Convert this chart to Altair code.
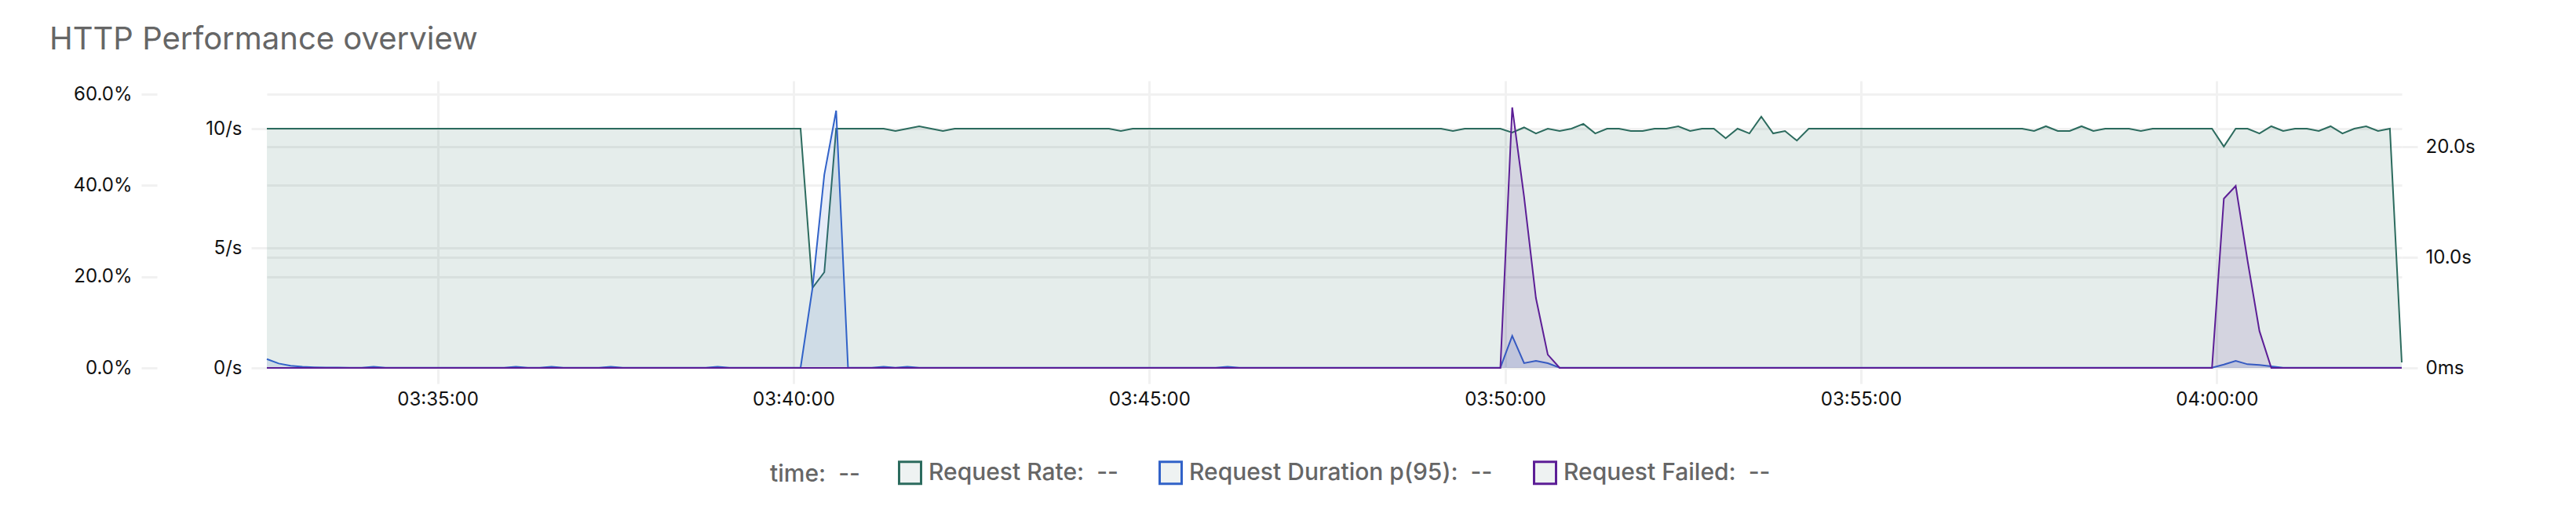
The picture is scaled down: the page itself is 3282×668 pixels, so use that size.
import altair as alt
import pandas as pd

# ---------------- data ----------------
START = "2024-01-01 03:32:36"   # first sample, one sample every 10 s

SERIES = ["Request Rate", "Request Duration p(95)", "Request Failed"]
LINE_COLORS = ["#2c6b5e", "#3162c8", "#5c1e96"]

# x-axis tick times (hour, minute)
X_TICKS = [(3, 35), (3, 40), (3, 45), (3, 50), (3, 55), (4, 0)]

# Request Rate (requests / s)
rate = [
    10, 10, 10, 10, 10, 10, 10, 10, 10, 10,
    10, 10, 10, 10, 10, 10, 10, 10, 10, 10,
    10, 10, 10, 10, 10, 10, 10, 10, 10, 10,
    10, 10, 10, 10, 10, 10, 10, 10, 10, 10,
    10, 10, 10, 10, 10, 10, 3.34, 4.0, 10, 10,
    10, 10, 10, 9.9, 10, 10.1, 10, 9.9, 10, 10,
    10, 10, 10, 10, 10, 10, 10, 10, 10, 10,
    10, 10, 9.9, 10, 10, 10, 10, 10, 10, 10,
    10, 10, 10, 10, 10, 10, 10, 10, 10, 10,
    10, 10, 10, 10, 10, 10, 10, 10, 10, 10,
    9.9, 10, 10, 10, 10, 9.84, 10.05, 9.8, 10, 9.9,
    10, 10.2, 9.8, 10, 10, 9.9, 9.9, 10, 10, 10.1,
    9.9, 10, 10, 9.6, 10, 9.8, 10.5, 9.8, 9.9, 9.5,
    10, 10, 10, 10, 10, 10, 10, 10, 10, 10,
    10, 10, 10, 10, 10, 10, 10, 10, 10, 9.9,
    10.1, 9.9, 9.9, 10.1, 9.9, 10, 10, 10, 9.9, 10,
    10, 10, 10, 10, 10, 9.25, 10, 10, 9.8, 10.1,
    9.9, 10, 10, 9.9, 10.1, 9.8, 10, 10.1, 9.9, 10,
    0.23,
]

# Request Duration p(95) (seconds)
duration = [
    0.8, 0.4, 0.2, 0.1, 0.06, 0.04, 0.03, 0.02, 0.02, 0.1,
    0.02, 0.02, 0.02, 0.02, 0.02, 0.02, 0.02, 0.02, 0.02, 0.02,
    0.02, 0.1, 0.02, 0.02, 0.1, 0.02, 0.02, 0.02, 0.02, 0.1,
    0.02, 0.02, 0.02, 0.02, 0.02, 0.02, 0.02, 0.02, 0.1, 0.02,
    0.02, 0.02, 0.02, 0.02, 0.02, 0.02, 7.2, 17.5, 23.3, 0.02,
    0.02, 0.02, 0.1, 0.02, 0.1, 0.02, 0.02, 0.02, 0.02, 0.02,
    0.02, 0.02, 0.02, 0.02, 0.02, 0.02, 0.02, 0.02, 0.02, 0.02,
    0.02, 0.02, 0.02, 0.02, 0.02, 0.02, 0.02, 0.02, 0.02, 0.02,
    0.02, 0.1, 0.02, 0.02, 0.02, 0.02, 0.02, 0.02, 0.02, 0.02,
    0.02, 0.02, 0.02, 0.02, 0.02, 0.02, 0.02, 0.02, 0.02, 0.02,
    0.02, 0.02, 0.02, 0.02, 0.02, 2.9, 0.43, 0.64, 0.43, 0.02,
    0.02, 0.02, 0.02, 0.02, 0.02, 0.02, 0.02, 0.02, 0.02, 0.02,
    0.02, 0.02, 0.02, 0.02, 0.02, 0.02, 0.02, 0.02, 0.02, 0.02,
    0.02, 0.02, 0.02, 0.02, 0.02, 0.02, 0.02, 0.02, 0.02, 0.02,
    0.02, 0.02, 0.02, 0.02, 0.02, 0.02, 0.02, 0.02, 0.02, 0.02,
    0.02, 0.02, 0.02, 0.02, 0.02, 0.02, 0.02, 0.02, 0.02, 0.02,
    0.02, 0.02, 0.02, 0.02, 0.02, 0.3, 0.64, 0.33, 0.26, 0.14,
    0.02, 0.02, 0.02, 0.02, 0.02, 0.02, 0.02, 0.02, 0.02, 0.02,
    0.02,
]

# Request Failed (fraction)
failed = [
    0, 0, 0, 0, 0, 0, 0, 0, 0, 0,
    0, 0, 0, 0, 0, 0, 0, 0, 0, 0,
    0, 0, 0, 0, 0, 0, 0, 0, 0, 0,
    0, 0, 0, 0, 0, 0, 0, 0, 0, 0,
    0, 0, 0, 0, 0, 0, 0, 0, 0, 0,
    0, 0, 0, 0, 0, 0, 0, 0, 0, 0,
    0, 0, 0, 0, 0, 0, 0, 0, 0, 0,
    0, 0, 0, 0, 0, 0, 0, 0, 0, 0,
    0, 0, 0, 0, 0, 0, 0, 0, 0, 0,
    0, 0, 0, 0, 0, 0, 0, 0, 0, 0,
    0, 0, 0, 0, 0, 0.571, 0.375, 0.153, 0.029, 0,
    0, 0, 0, 0, 0, 0, 0, 0, 0, 0,
    0, 0, 0, 0, 0, 0, 0, 0, 0, 0,
    0, 0, 0, 0, 0, 0, 0, 0, 0, 0,
    0, 0, 0, 0, 0, 0, 0, 0, 0, 0,
    0, 0, 0, 0, 0, 0, 0, 0, 0, 0,
    0, 0, 0, 0, 0, 0.371, 0.399, 0.235, 0.081, 0,
    0, 0, 0, 0, 0, 0, 0, 0, 0, 0,
    0,
]

FAIL_TICKS = [0, 0.2, 0.4, 0.6]
RATE_TICKS = [0, 5, 10]
DUR_TICKS = [0, 10, 20]

times = pd.date_range(START, periods=len(rate), freq="10s")
df = pd.DataFrame({
    "time": list(times.strftime("%Y-%m-%dT%H:%M:%S")),
    "rate": rate,
    "duration": duration,
    "failed": failed,
})

# ---------------- styling ----------------
FONT = "Inter"
GRID = "#f1f1f1"

x_enc = alt.X(
    "time:T",
    scale=alt.Scale(nice=False),
    axis=alt.Axis(
        title=None, format="%H:%M:%S",
        values=[alt.DateTime(year=2024, month=1, date=1, hours=h, minutes=m)
                for h, m in X_TICKS],
        domain=False, grid=True, gridColor=GRID, gridWidth=3,
        ticks=True, tickSize=20, tickColor=GRID, tickWidth=3,
        labelFontSize=24, labelColor="#111", labelPadding=8, labelFont=FONT,
    ),
)


def yaxis(orient, offset, values, pad, fmt=None, expr=None):
    kw = dict(
        orient=orient, offset=offset, values=values, title=None, domain=False,
        grid=True, gridColor=GRID, gridWidth=3,
        ticks=True, tickSize=20, tickColor=GRID, tickWidth=3,
        labelFontSize=24, labelColor="#111", labelPadding=pad, labelFont=FONT,
    )
    if fmt:
        kw["format"] = fmt
    if expr:
        kw["labelExpr"] = expr
    return alt.Axis(**kw)


stroke_scale = alt.Scale(domain=SERIES, range=LINE_COLORS)
legend = alt.Legend(
    title="time:\u00a0\u00a0--", titleOrient="left", titlePadding=48,
    titleFontSize=30, titleColor="#666", titleFontWeight=500, titleFont=FONT,
    orient="none", legendX=641, legendY=484, direction="horizontal",
    symbolType="square", symbolSize=784, symbolStrokeWidth=3,
    symbolFillColor="#eef2f2",
    labelExpr="datum.label + ':\u00a0\u00a0--'",
    labelFontSize=30, labelColor="#666", labelFontWeight=500, labelFont=FONT,
    labelOffset=8, labelLimit=1000, columnPadding=46, padding=0,
)

series_defs = [
    # field, name, color, domain, axis
    ("rate", SERIES[0], LINE_COLORS[0], [0, 12],
     yaxis("left", 0, RATE_TICKS, 12, expr="datum.value + '/s'")),
    ("duration", SERIES[1], LINE_COLORS[1], [0, 26],
     yaxis("right", 0, DUR_TICKS, 10,
           expr="datum.value == 0 ? '0ms' : format(datum.value, '.1f') + 's'")),
    ("failed", SERIES[2], LINE_COLORS[2], [0, 0.6294],
     yaxis("left", 140, FAIL_TICKS, 12, fmt=".1%")),
]

layers = []
for field, name, color, dom, axis in series_defs:
    ysc = alt.Scale(domain=dom, nice=False, zero=True)
    area = alt.Chart(df).mark_area(
        fill=color, fillOpacity=0.12, strokeWidth=0, interpolate="linear"
    ).encode(x=x_enc, y=alt.Y(f"{field}:Q", scale=ysc, axis=None))
    line = alt.Chart(df).transform_calculate(
        series=f"'{name}'"
    ).mark_line(strokeWidth=2, interpolate="linear").encode(
        x=x_enc,
        y=alt.Y(f"{field}:Q", scale=ysc, axis=axis),
        stroke=alt.Stroke("series:N", scale=stroke_scale, legend=legend),
    )
    layers += [area, line]

chart = alt.layer(*layers).resolve_scale(y="independent").properties(
    width=2720,
    height=366,
    autosize=alt.AutoSizeParams(type="none"),
    padding={"left": 332, "top": 95, "right": 200, "bottom": 180},
    title=alt.TitleParams(
        "HTTP Performance overview", anchor="start", frame="group",
        fontSize=40, fontWeight="normal", color="#666", font=FONT,
        dx=-277, offset=0, baseline="alphabetic",
    ),
).configure(background="white", font=FONT).configure_view(stroke=None)

chart.save("out.html", embed_options={"renderer": "svg", "actions": False})
